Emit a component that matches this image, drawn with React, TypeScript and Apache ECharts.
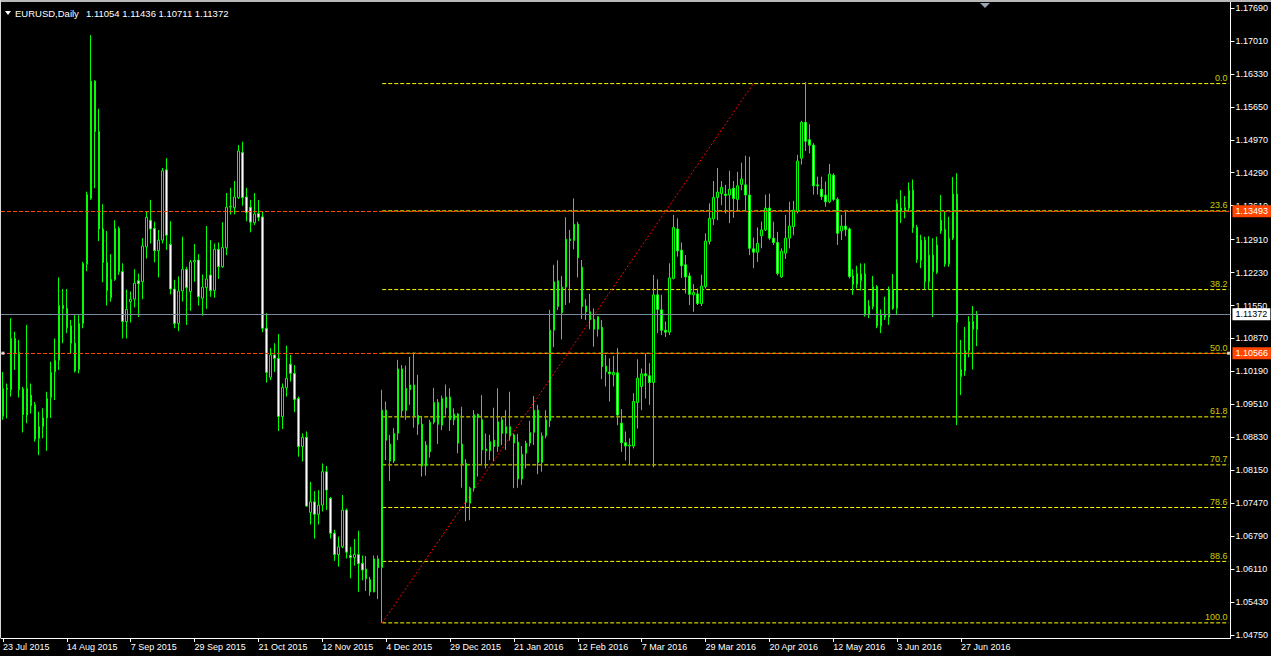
import React, { useEffect, useRef } from "react";
import * as echarts from "echarts";

const FONT = '"Liberation Sans", Arial, sans-serif';

// ---- Daily OHLC (EURUSD, 23 Jul 2015 .. 1 Jul 2016) ----
const open = [
  1.0926, 1.0984, 1.0981, 1.1087, 1.1058, 1.0983, 1.0929, 1.0970, 1.0950, 1.0881,
  1.0905, 1.0923, 1.0965, 1.1018, 1.1042, 1.1155, 1.1149, 1.1113, 1.1077, 1.1023,
  1.1118, 1.1240, 1.1376, 1.1618, 1.1514, 1.1313, 1.1244, 1.1171, 1.1208, 1.1314,
  1.1225, 1.1122, 1.1163, 1.1168, 1.1206, 1.1204, 1.1276, 1.1331, 1.1314, 1.1268,
  1.1290, 1.1435, 1.1281, 1.1189, 1.1118, 1.1185, 1.1230, 1.1184, 1.1245, 1.1249,
  1.1170, 1.1192, 1.1218, 1.1186, 1.1271, 1.1235, 1.1274, 1.1358, 1.1357, 1.1378,
  1.1471, 1.1379, 1.1358, 1.1326, 1.1345, 1.1338, 1.1108, 1.1007, 1.1053, 1.1046,
  1.0926, 1.0985, 1.1034, 1.1015, 1.0963, 1.0864, 1.0883, 1.0728, 1.0750, 1.0724,
  1.0743, 1.0812, 1.0757, 1.0685, 1.0641, 1.0657, 1.0733, 1.0639, 1.0635, 1.0641,
  1.0623, 1.0611, 1.0589, 1.0564, 1.0632, 1.0614, 1.0939, 1.0869, 1.0834, 1.0891,
  1.1024, 1.0938, 1.0981, 1.0991, 1.0928, 1.0910, 1.0824, 1.0853, 1.0914, 1.0955,
  1.0908, 1.0944, 1.0966, 1.0919, 1.0931, 1.0869, 1.0829, 1.0747, 1.0778, 1.0930,
  1.0919, 1.0855, 1.0855, 1.0877, 1.0864, 1.0919, 1.0891, 1.0905, 1.0888, 1.0873,
  1.0797, 1.0850, 1.0871, 1.0893, 1.0939, 1.0831, 1.0886, 1.0917, 1.1104, 1.1206,
  1.1140, 1.1193, 1.1292, 1.1289, 1.1323, 1.1234, 1.1154, 1.1142, 1.1126, 1.1106,
  1.1110, 1.1030, 1.1018, 1.1012, 1.1016, 1.0912, 1.0872, 1.0865, 1.0865, 1.0955,
  1.0988, 1.1014, 1.1010, 1.0996, 1.1177, 1.1146, 1.1104, 1.1100, 1.1211, 1.1313,
  1.1269, 1.1239, 1.1216, 1.1177, 1.1179, 1.1159, 1.1194, 1.1287, 1.1334, 1.1378,
  1.1386, 1.1385, 1.1383, 1.1397, 1.1374, 1.1405, 1.1404, 1.1383, 1.1272, 1.1265,
  1.1299, 1.1311, 1.1356, 1.1294, 1.1285, 1.1214, 1.1263, 1.1294, 1.1318, 1.1349,
  1.1459, 1.1533, 1.1497, 1.1486, 1.1404, 1.1395, 1.1383, 1.1369, 1.1424, 1.1374,
  1.1309, 1.1319, 1.1313, 1.1216, 1.1199, 1.1206, 1.1220, 1.1137, 1.1153, 1.1194,
  1.1113, 1.1137, 1.1131, 1.1187, 1.1149, 1.1356, 1.1352, 1.1356, 1.1393, 1.1316,
  1.1248, 1.1290, 1.1204, 1.1259, 1.1223, 1.1331, 1.1312, 1.1241, 1.1294, 1.1385,
  1.1008, 1.1020, 1.1062, 1.1122, 1.11054,
];
const high = [
  1.1018, 1.0994, 1.1129, 1.1101, 1.1084, 1.0987, 1.1115, 1.0994, 1.0956, 1.0936,
  1.0943, 1.0977, 1.1039, 1.1087, 1.1213, 1.1189, 1.1189, 1.1125, 1.1135, 1.1135,
  1.1245, 1.1390, 1.1713, 1.1620, 1.1561, 1.1364, 1.1309, 1.1261, 1.1331, 1.1318,
  1.1242, 1.1188, 1.1184, 1.1230, 1.1221, 1.1294, 1.1349, 1.1373, 1.1328, 1.1311,
  1.1439, 1.1459, 1.1329, 1.1208, 1.1215, 1.1297, 1.1235, 1.1249, 1.1282, 1.1261,
  1.1219, 1.1319, 1.1290, 1.1283, 1.1285, 1.1327, 1.1387, 1.1398, 1.1412, 1.1486,
  1.1493, 1.1398, 1.1373, 1.1387, 1.1373, 1.1349, 1.1139, 1.1067, 1.1077, 1.1096,
  1.0994, 1.1072, 1.1053, 1.1032, 1.0967, 1.0891, 1.0895, 1.0791, 1.0772, 1.0774,
  1.0829, 1.0824, 1.0760, 1.0692, 1.0678, 1.0764, 1.0736, 1.0657, 1.0673, 1.0690,
  1.0639, 1.0638, 1.0595, 1.0639, 1.0639, 1.0981, 1.0957, 1.0888, 1.0902, 1.1043,
  1.1032, 1.1031, 1.1049, 1.1058, 1.1012, 1.0926, 1.0875, 1.0919, 1.0985, 1.0962,
  1.0969, 1.0992, 1.0984, 1.0943, 1.0933, 1.0946, 1.0838, 1.0781, 1.0939, 1.0932,
  1.0970, 1.0891, 1.0888, 1.0944, 1.0984, 1.0926, 1.0939, 1.0977, 1.0891, 1.0890,
  1.0865, 1.0876, 1.0917, 1.0968, 1.0950, 1.0893, 1.0939, 1.1146, 1.1239, 1.1248,
  1.1216, 1.1337, 1.1311, 1.1376, 1.1328, 1.1249, 1.1168, 1.1179, 1.1149, 1.1133,
  1.1125, 1.1053, 1.1046, 1.1051, 1.1067, 1.0941, 1.0895, 1.0881, 1.0974, 1.1044,
  1.1025, 1.1056, 1.1036, 1.1218, 1.1209, 1.1177, 1.1122, 1.1242, 1.1342, 1.1335,
  1.1285, 1.1259, 1.1223, 1.1199, 1.1190, 1.1219, 1.1304, 1.1366, 1.1412, 1.1439,
  1.1412, 1.1404, 1.1433, 1.1412, 1.1431, 1.1450, 1.1464, 1.1462, 1.1295, 1.1316,
  1.1328, 1.1384, 1.1386, 1.1328, 1.1307, 1.1273, 1.1342, 1.1369, 1.1371, 1.1466,
  1.1536, 1.1616, 1.1529, 1.1490, 1.1421, 1.1421, 1.1411, 1.1447, 1.1428, 1.1378,
  1.1342, 1.1349, 1.1316, 1.1230, 1.1237, 1.1242, 1.1242, 1.1166, 1.1216, 1.1197,
  1.1147, 1.1173, 1.1194, 1.1220, 1.1374, 1.1393, 1.1381, 1.1409, 1.1415, 1.1321,
  1.1301, 1.1297, 1.1298, 1.1294, 1.1297, 1.1383, 1.1349, 1.1338, 1.1420, 1.1428,
  1.1084, 1.1111, 1.1133, 1.1154, 1.11436,
];
const low = [
  1.0919, 1.0922, 1.0967, 1.1022, 1.0965, 1.0893, 1.0912, 1.0932, 1.0874, 1.0846,
  1.0881, 1.0855, 1.0923, 1.0960, 1.1022, 1.1077, 1.1098, 1.1056, 1.1017, 1.1015,
  1.1108, 1.1226, 1.1373, 1.1397, 1.1288, 1.1203, 1.1155, 1.1163, 1.1206, 1.1218,
  1.1087, 1.1087, 1.1120, 1.1151, 1.1131, 1.1168, 1.1252, 1.1283, 1.1244, 1.1213,
  1.1283, 1.1270, 1.1178, 1.1108, 1.1102, 1.1163, 1.1115, 1.1144, 1.1204, 1.1155,
  1.1134, 1.1148, 1.1173, 1.1171, 1.1210, 1.1233, 1.1259, 1.1343, 1.1343, 1.1375,
  1.1361, 1.1329, 1.1306, 1.1321, 1.1329, 1.1100, 1.0996, 1.1001, 1.1018, 1.0896,
  1.0900, 1.0967, 1.0998, 1.0935, 1.0843, 1.0833, 1.0740, 1.0703, 1.0674, 1.0703,
  1.0730, 1.0733, 1.0674, 1.0628, 1.0616, 1.0654, 1.0633, 1.0592, 1.0618, 1.0564,
  1.0588, 1.0566, 1.0556, 1.0563, 1.0549, 1.0500, 1.0836, 1.0793, 1.0830, 1.0877,
  1.0926, 1.0919, 1.0950, 1.0903, 1.0888, 1.0802, 1.0804, 1.0841, 1.0910, 1.0869,
  1.0898, 1.0928, 1.0896, 1.0908, 1.0850, 1.0779, 1.0710, 1.0712, 1.0771, 1.0802,
  1.0826, 1.0819, 1.0836, 1.0834, 1.0853, 1.0867, 1.0857, 1.0876, 1.0778, 1.0779,
  1.0785, 1.0819, 1.0864, 1.0867, 1.0807, 1.0812, 1.0881, 1.0904, 1.1069, 1.1146,
  1.1085, 1.1156, 1.1160, 1.1271, 1.1213, 1.1127, 1.1125, 1.1106, 1.1070, 1.1091,
  1.1003, 1.0988, 1.0957, 1.0988, 1.0908, 1.0853, 1.0835, 1.0826, 1.0860, 1.0901,
  1.0939, 1.0963, 1.0950, 1.0821, 1.1098, 1.1094, 1.1090, 1.1094, 1.1209, 1.1256,
  1.1212, 1.1180, 1.1156, 1.1142, 1.1156, 1.1154, 1.1190, 1.1281, 1.1321, 1.1331,
  1.1362, 1.1345, 1.1325, 1.1336, 1.1349, 1.1393, 1.1349, 1.1259, 1.1232, 1.1245,
  1.1273, 1.1309, 1.1290, 1.1280, 1.1217, 1.1212, 1.1251, 1.1273, 1.1300, 1.1345,
  1.1446, 1.1474, 1.1469, 1.1384, 1.1384, 1.1373, 1.1359, 1.1366, 1.1371, 1.1280,
  1.1290, 1.1298, 1.1211, 1.1177, 1.1190, 1.1186, 1.1132, 1.1129, 1.1147, 1.1108,
  1.1098, 1.1125, 1.1115, 1.1146, 1.1135, 1.1325, 1.1335, 1.1350, 1.1305, 1.1243,
  1.1232, 1.1188, 1.1188, 1.1131, 1.1220, 1.1303, 1.1235, 1.1235, 1.1290, 1.0908,
  1.0970, 1.1010, 1.1048, 1.1023, 1.10711,
];
const close = [
  1.0984, 1.0982, 1.1087, 1.1056, 1.0981, 1.0930, 1.0984, 1.0948, 1.0879, 1.0905,
  1.0923, 1.0963, 1.1017, 1.1042, 1.1155, 1.1149, 1.1109, 1.1077, 1.1020, 1.1118,
  1.1242, 1.1384, 1.1618, 1.1514, 1.1313, 1.1244, 1.1186, 1.1209, 1.1314, 1.1225,
  1.1122, 1.1147, 1.1168, 1.1201, 1.1200, 1.1278, 1.1337, 1.1313, 1.1268, 1.1290,
  1.1433, 1.1300, 1.1189, 1.1118, 1.1185, 1.1230, 1.1192, 1.1245, 1.1248, 1.1173,
  1.1193, 1.1210, 1.1186, 1.1271, 1.1235, 1.1275, 1.1358, 1.1360, 1.1379, 1.1474,
  1.1378, 1.1347, 1.1327, 1.1344, 1.1337, 1.1108, 1.1017, 1.1053, 1.1046, 1.0926,
  1.0986, 1.1005, 1.1015, 1.0961, 1.0864, 1.0883, 1.0741, 1.0750, 1.0724, 1.0743,
  1.0812, 1.0774, 1.0685, 1.0641, 1.0657, 1.0733, 1.0646, 1.0635, 1.0641, 1.0622,
  1.0609, 1.0591, 1.0564, 1.0632, 1.0614, 1.0939, 1.0877, 1.0834, 1.0891, 1.1024,
  1.0938, 1.0984, 1.0991, 1.0928, 1.0910, 1.0824, 1.0867, 1.0914, 1.0955, 1.0910,
  1.0963, 1.0966, 1.0919, 1.0931, 1.0871, 1.0829, 1.0749, 1.0778, 1.0930, 1.0924,
  1.0857, 1.0859, 1.0874, 1.0864, 1.0915, 1.0891, 1.0905, 1.0886, 1.0871, 1.0797,
  1.0848, 1.0871, 1.0893, 1.0939, 1.0831, 1.0886, 1.0919, 1.1104, 1.1204, 1.1153,
  1.1193, 1.1292, 1.1289, 1.1323, 1.1254, 1.1153, 1.1142, 1.1126, 1.1106, 1.1132,
  1.1029, 1.1018, 1.1014, 1.1017, 1.0929, 1.0872, 1.0865, 1.0867, 1.0957, 1.1005,
  1.1014, 1.1010, 1.0996, 1.1177, 1.1147, 1.1104, 1.1100, 1.1212, 1.1316, 1.1268,
  1.1237, 1.1214, 1.1178, 1.1182, 1.1159, 1.1195, 1.1288, 1.1335, 1.1378, 1.1389,
  1.1399, 1.1382, 1.1395, 1.1376, 1.1402, 1.1416, 1.1383, 1.1273, 1.1265, 1.1283,
  1.1311, 1.1356, 1.1294, 1.1285, 1.1221, 1.1267, 1.1294, 1.1319, 1.1352, 1.1453,
  1.1533, 1.1494, 1.1486, 1.1402, 1.1402, 1.1380, 1.1369, 1.1426, 1.1374, 1.1304,
  1.1319, 1.1312, 1.1215, 1.1199, 1.1221, 1.1220, 1.1137, 1.1154, 1.1194, 1.1113,
  1.1137, 1.1131, 1.1188, 1.1149, 1.1366, 1.1351, 1.1357, 1.1393, 1.1316, 1.1250,
  1.1290, 1.1204, 1.1259, 1.1225, 1.1280, 1.1309, 1.1241, 1.1294, 1.1385, 1.1120,
  1.1023, 1.1062, 1.1122, 1.1106, 1.11372,
];

// ---- Axis ticks / labels ----
const priceTicks = [
  1.1769, 1.1701, 1.1633, 1.1565, 1.1497, 1.1429, 1.1361, 1.1291, 1.1223, 1.1155,
  1.1087, 1.1019, 1.0951, 1.0883, 1.0815, 1.0747, 1.0679, 1.0611, 1.0543, 1.0475,
];
const Y_MIN = 1.04688;
const Y_MAX = 1.17814;
const DATE_LABEL_EVERY = 16;
const TOTAL_SLOTS = 308; // bars + empty chart-shift area

// ---- Objects on the chart ----
const fibPercents = [0, 23.6, 38.2, 50, 61.8, 70.7, 78.6, 88.6, 100];
const fibTexts = ["0.0", "23.6", "38.2", "50.0", "61.8", "70.7", "78.6", "88.6", "100.0"];
const fibHigh = 1.1613;
const fibLow = 1.05;
const fibStartBar = 95;
const trendEndBar = 188;
const hLinePrices = [1.13493, 1.10566];
const bidPrice = 1.11372;
const titleSymbol = "EURUSD,Daily";
const titleOHLC = "1.11054 1.11436 1.10711 1.11372";

const MONTHS = ["Jan", "Feb", "Mar", "Apr", "May", "Jun", "Jul", "Aug", "Sep", "Oct", "Nov", "Dec"];
function buildDates(n: number): string[] {
  const out: string[] = [];
  const d = new Date(Date.UTC(2015, 6, 23));
  while (out.length < n) {
    const wd = d.getUTCDay();
    const m = d.getUTCMonth();
    const day = d.getUTCDate();
    const holiday = (m === 11 && day === 25) || (m === 0 && day === 1);
    if (wd !== 0 && wd !== 6 && !holiday) out.push(`${day} ${MONTHS[m]} ${d.getUTCFullYear()}`);
    d.setUTCDate(day + 1);
  }
  return out;
}

export default function App() {
  const ref = useRef<HTMLDivElement | null>(null);

  useEffect(() => {
    if (!ref.current) return;
    const chart = echarts.init(ref.current, null, { renderer: "svg" });
    const nBars = open.length;
    const cats = buildDates(TOTAL_SLOTS);
    const candles = open.map((o, i) => [o, close[i], low[i], high[i]]);
    const lastSlot = TOTAL_SLOTS - 1;
    const fibValues = fibPercents.map((p) => fibHigh - (p / 100) * (fibHigh - fibLow));
    const showDate = (i: number) => i % DATE_LABEL_EVERY === 0 && i < nBars;

    const fibSeries = fibValues.map((v) => ({
      type: "line",
      data: [
        [fibStartBar, v],
        [lastSlot, v],
      ],
      symbol: "none",
      silent: true,
      z: 1,
      lineStyle: { color: "#ffff00", width: 1, type: [4, 2] },
    }));

    const option: any = {
      animation: false,
      backgroundColor: "#000000",
      textStyle: { fontFamily: FONT },
      grid: { left: -0.5, right: 39.5, top: 2, bottom: 18, containLabel: false },
      xAxis: {
        type: "category",
        data: cats,
        boundaryGap: true,
        axisLine: { show: true, lineStyle: { color: "#ffffff", width: 1 } },
        axisTick: {
          show: true,
          alignWithLabel: true,
          interval: (i: number) => showDate(i),
          length: 4,
          lineStyle: { color: "#ffffff" },
        },
        axisLabel: {
          interval: (i: number) => showDate(i),
          color: "#ffffff",
          fontSize: 9,
          fontFamily: FONT,
          align: "left",
          margin: 4,
        },
        splitLine: { show: false },
      },
      yAxis: {
        type: "value",
        position: "right",
        min: Y_MIN,
        max: Y_MAX,
        axisLine: { show: true, lineStyle: { color: "#ffffff", width: 1 } },
        axisTick: { show: true, length: 4, customValues: priceTicks, lineStyle: { color: "#ffffff" } },
        axisLabel: {
          customValues: priceTicks,
          formatter: (v: number) => v.toFixed(5),
          color: "#ffffff",
          fontSize: 9,
          fontFamily: FONT,
          margin: 5,
        },
        splitLine: { show: false },
      },
      series: [
        ...fibSeries,
        {
          type: "line",
          data: [
            [fibStartBar, fibLow],
            [trendEndBar, fibHigh],
          ],
          symbol: "none",
          silent: true,
          z: 1,
          lineStyle: { color: "#ff0000", width: 1, type: [2, 2] },
        },
        {
          type: "candlestick",
          data: candles,
          barWidth: 2,
          z: 3,
          itemStyle: {
            color: "#000000",
            color0: "#ffffff",
            borderColor: "#00ff00",
            borderColor0: "#00ff00",
            borderColorDoji: "#00ff00",
            borderWidth: 1,
          },
          markLine: {
            silent: true,
            precision: 5,
            symbol: ["none", "none"],
            animation: false,
            label: {
              show: true,
              position: "end",
              distance: 2,
              fontSize: 9,
              fontFamily: FONT,
              padding: [2, 3, 1, 3],
            },
            data: [
              ...hLinePrices.map((p) => ({
                yAxis: p,
                lineStyle: { color: "#ff4500", width: 1, type: [4, 2] },
                label: { formatter: p.toFixed(5), backgroundColor: "#ff4500", color: "#ffffff" },
              })),
              {
                yAxis: bidPrice,
                lineStyle: { color: "#778899", width: 1, type: "solid" },
                label: { formatter: bidPrice.toFixed(5), backgroundColor: "#ffffff", color: "#000000" },
              },
            ],
          },
        },
        {
          type: "scatter",
          data: fibValues.map((v, i) => [lastSlot, v, fibTexts[i]]),
          symbolSize: 0,
          silent: true,
          z: 4,
          itemStyle: { color: "rgba(0,0,0,0)" },
          label: {
            show: true,
            position: "top",
            align: "right",
            distance: 1,
            offset: [-1, 0],
            color: "#ffff00",
            fontSize: 9,
            fontFamily: FONT,
            formatter: (p: any) => p.data[2],
          },
        },
        {
          type: "scatter",
          data: [
            [0, hLinePrices[1]],
            [lastSlot, hLinePrices[1]],
          ],
          symbol: "rect",
          symbolSize: 3,
          silent: true,
          z: 5,
          itemStyle: { color: "#ffffff" },
        },
      ],
      graphic: [
        { type: "rect", shape: { x: 0, y: 0, width: 1271, height: 2 }, style: { fill: "#b8b8b8" }, z: 100 },
        { type: "rect", shape: { x: 0, y: 0, width: 1, height: 638 }, style: { fill: "#d8d8d8" }, z: 100 },
        { type: "polygon", shape: { points: [[5, 11], [11, 11], [8, 15]] }, style: { fill: "#ffffff" }, z: 100 },
        {
          type: "text",
          x: 15,
          y: 13,
          style: { text: titleSymbol, fill: "#ffffff", fontSize: 9.5, fontFamily: FONT, verticalAlign: "middle" },
          z: 100,
        },
        {
          type: "text",
          x: 86,
          y: 13,
          style: { text: titleOHLC, fill: "#ffffff", fontSize: 9.5, fontFamily: FONT, verticalAlign: "middle" },
          z: 100,
        },
        { type: "polygon", shape: { points: [[980, 3], [990, 3], [985, 8]] }, style: { fill: "#9aa4b0" }, z: 100 },
      ],
    };

    chart.setOption(option);
    return () => chart.dispose();
  }, []);

  return (
    <div
      ref={ref}
      style={{ position: "fixed", left: 0, top: 0, width: 1271, height: 656, background: "#000000" }}
    />
  );
}
